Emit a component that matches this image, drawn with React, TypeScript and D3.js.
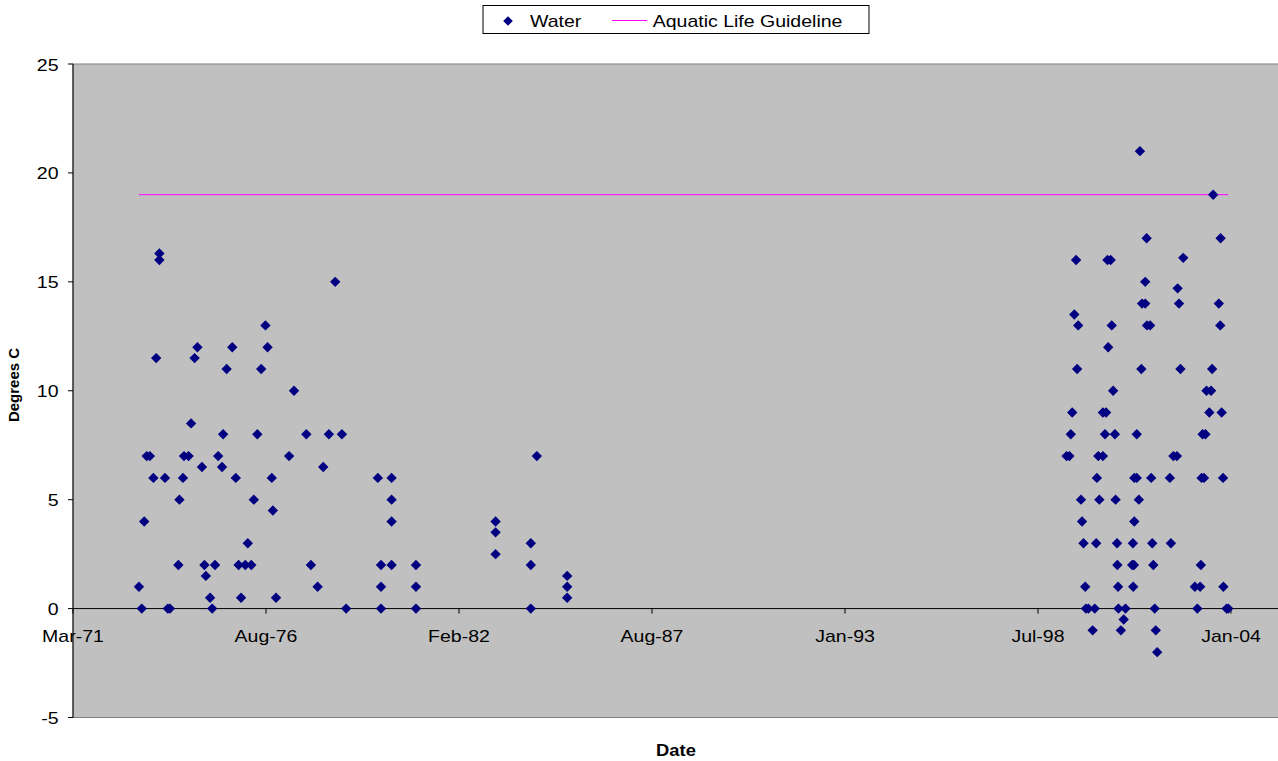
import React from "react";
import * as d3 from "d3";

// ---- Data (decimal years, degrees C) ----
const waterYears: number[] = [
  1973.05, 1973.13, 1973.2, 1973.27, 1973.36, 1973.46, 1973.54, 1973.63, 1973.63, 1973.79, 1973.87, 1973.93,
  1974.17, 1974.2, 1974.3, 1974.33, 1974.46, 1974.53, 1974.63, 1974.71, 1974.84, 1974.91, 1974.95,
  1975.07, 1975.13, 1975.21, 1975.3, 1975.41, 1975.44, 1975.54, 1975.7, 1975.8, 1975.88, 1975.95,
  1976.07, 1976.14, 1976.24, 1976.31, 1976.41, 1976.52, 1976.64, 1976.7, 1976.82, 1976.85, 1976.94,
  1977.31, 1977.45, 1977.8, 1977.93, 1978.12, 1978.28, 1978.44, 1978.62, 1978.81, 1978.93,
  1979.83, 1980.22, 1980.22, 1980.22, 1979.92, 1980.22, 1980.91, 1979.92, 1980.91, 1979.92, 1980.91,
  1983.17, 1983.17, 1983.17, 1984.17, 1984.17, 1984.17, 1984.34, 1985.2, 1985.2, 1985.2,
  1999.37, 1999.45, 1999.49, 1999.53, 1999.59, 1999.64, 1999.67, 1999.7, 1999.78, 1999.81, 1999.85, 1999.9,
  1999.92, 1999.99, 2000.11, 2000.17, 2000.21, 2000.23, 2000.27, 2000.3, 2000.4, 2000.4, 2000.46, 2000.49,
  2000.53, 2000.55, 2000.62, 2000.65, 2000.69, 2000.74, 2000.76, 2000.8, 2000.81, 2000.83, 2000.84, 2000.91,
  2000.99, 2001.04, 2001.23, 2001.25, 2001.26, 2001.28, 2001.29, 2001.29, 2001.36, 2001.36, 2001.42, 2001.45,
  2001.49, 2001.51, 2001.6, 2001.6, 2001.64, 2001.65, 2001.74, 2001.77, 2001.8, 2001.83, 2001.87, 2001.9,
  2001.94, 2002.3, 2002.33, 2002.4, 2002.5, 2002.52, 2002.56, 2002.6, 2002.68, 2003.01, 2003.08, 2003.16,
  2003.18, 2003.2, 2003.23, 2003.27, 2003.31, 2003.34, 2003.42, 2003.47, 2003.5, 2003.53, 2003.69, 2003.73,
  2003.74, 2003.77, 2003.81, 2003.82, 2003.91, 2003.96,
];

const waterTemps: number[] = [
  1, 0, 4, 7, 7, 6, 11.5, 16.3, 16, 6, 0, 0,
  2, 5, 6, 7, 7, 8.5, 11.5, 12, 6.5, 2, 1.5,
  0.5, 0, 2, 7, 6.5, 8, 11, 12, 6, 2, 0.5,
  2, 3, 2, 5, 8, 11, 13, 12, 6, 4.5, 0.5,
  7, 10, 8, 2, 1, 6.5, 8, 15, 8, 0,
  6, 6, 5, 4, 2, 2, 2, 1, 1, 0, 0,
  4, 3.5, 2.5, 3, 2, 0, 7, 1.5, 1, 0.5,
  7, 7, 8, 9, 13.5, 16, 11, 13, 5, 4, 3, 1,
  0, 0, -1, 0, 3, 6, 7, 5, 7, 9, 8, 9,
  16, 12, 16, 13, 10, 8, 5, 3, 2, 1, 0, -1,
  -0.5, 0, 2, 3, 1, 2, 6, 4, 8, 6, 5, 21,
  11, 14, 14, 15, 17, 13, 13, 6, 3, 2, 0, -1,
  -2, 6, 3, 7, 7, 14.7, 14, 11, 16.1, 1, 0, 1,
  2, 6, 8, 6, 8, 10, 9, 10, 11, 19, 14, 13,
  17, 9, 6, 1, 0, 0,
];

const guidelineYears: number[] = [1973.05, 2003.96];
const guidelineValues: number[] = [19, 19];

const xTickDates: string[] = ["1971-03-08", "1976-08-28", "1982-02-18", "1987-08-11", "1993-01-31", "1998-07-24", "2004-01-14"];
const xTickLabels: string[] = ["Mar-71", "Aug-76", "Feb-82", "Aug-87", "Jan-93", "Jul-98", "Jan-04"];
const yTicks: number[] = [-5, 0, 5, 10, 15, 20, 25];

const seriesNames: string[] = ["Water", "Aquatic Life Guideline"];

// ---- helpers ----
const toDate = (y: number) => {
  const yr = Math.floor(y);
  const s = Date.UTC(yr, 0, 1);
  const e = Date.UTC(yr + 1, 0, 1);
  return new Date(s + (y - yr) * (e - s));
};
const parse = (s: string) => {
  const [y, m, d] = s.split("-").map(Number);
  return new Date(Date.UTC(y, m - 1, d));
};

const W = 1278;
const H = 761;
const PL = 73;
const PT = 64;
const PB = 717.5;
const FONT = "'Liberation Sans', Arial, sans-serif";
const SX = 1.22;
const NAVY = "#000080";
const PINK = "#FF00FF";

const diamond = (r: number) => {
  const p = d3.path();
  p.moveTo(0, -r);
  p.lineTo(r, 0);
  p.lineTo(0, r);
  p.lineTo(-r, 0);
  p.closePath();
  return p.toString();
};

export default function App() {
  const x = d3
    .scaleUtc()
    .domain([parse(xTickDates[0]), parse(xTickDates[xTickDates.length - 1])])
    .range([PL, 1231]);
  const y = d3.scaleLinear().domain([-5, 25]).range([PB, PT]);

  const points = waterYears.map((yr, i) => ({ d: toDate(yr), v: waterTemps[i] }));
  const guide = guidelineYears.map((yr, i) => ({ d: toDate(yr), v: guidelineValues[i] }));
  const line = d3
    .line<{ d: Date; v: number }>()
    .x((p) => x(p.d))
    .y((p) => y(p.v));

  const dPath = diamond(5.2);

  return (
    <svg
      width={W}
      height={H}
      style={{ position: "absolute", left: 0, top: 0, background: "#fff" }}
      fontFamily={FONT}
    >
      {/* plot area */}
      <rect x={PL} y={PT} width={W - PL + 10} height={PB - PT} fill="#C0C0C0" stroke="#808080" strokeWidth={1} />

      {/* y axis */}
      <line x1={PL} x2={PL} y1={PT} y2={PB} stroke="#000" strokeWidth={1} />
      {yTicks.map((t) => (
        <g key={t}>
          <line x1={PL - 5} x2={PL} y1={y(t)} y2={y(t)} stroke="#000" />
          <text
            transform={`translate(58.5,${y(t) + 6.5}) scale(${SX},1)`}
            textAnchor="end"
            fontSize={16}
            fill="#000"
          >
            {t}
          </text>
        </g>
      ))}

      {/* x axis at 0 */}
      <line x1={PL} x2={W} y1={y(0)} y2={y(0)} stroke="#000" strokeWidth={1} />
      {xTickDates.map((s, i) => (
        <g key={s}>
          <line x1={x(parse(s))} x2={x(parse(s))} y1={y(0)} y2={y(0) + 5} stroke="#000" />
          <text
            transform={`translate(${x(parse(s))},${y(0) + 33}) scale(${SX},1)`}
            textAnchor="middle"
            fontSize={16}
            fill="#000"
          >
            {xTickLabels[i]}
          </text>
        </g>
      ))}

      {/* guideline */}
      <path d={line(guide) || ""} fill="none" stroke={PINK} strokeWidth={1} />

      {/* water points */}
      {points.map((p, i) => (
        <path key={i} d={dPath} transform={`translate(${x(p.d)},${y(p.v)})`} fill={NAVY} />
      ))}

      {/* axis titles */}
      <text
        transform={`translate(19,385) rotate(-90)`}
        textAnchor="middle"
        fontSize={15}
        fontWeight="bold"
        fill="#000"
      >
        Degrees C
      </text>
      <text
        transform={`translate(676,756) scale(1.08,1)`}
        textAnchor="middle"
        fontSize={17}
        fontWeight="bold"
        fill="#000"
      >
        Date
      </text>

      {/* legend */}
      <rect x={483} y={5.5} width={386} height={28} fill="#fff" stroke="#000" strokeWidth={1} />
      <path d={diamond(4.8)} transform="translate(508,21)" fill={NAVY} />
      <text transform={`translate(530,27) scale(${SX},1)`} fontSize={16} fill="#000">
        {seriesNames[0]}
      </text>
      <line x1={612} x2={647} y1={20.5} y2={20.5} stroke={PINK} strokeWidth={1} />
      <text transform={`translate(652.7,27) scale(${SX},1)`} fontSize={16} fill="#000">
        {seriesNames[1]}
      </text>
    </svg>
  );
}
